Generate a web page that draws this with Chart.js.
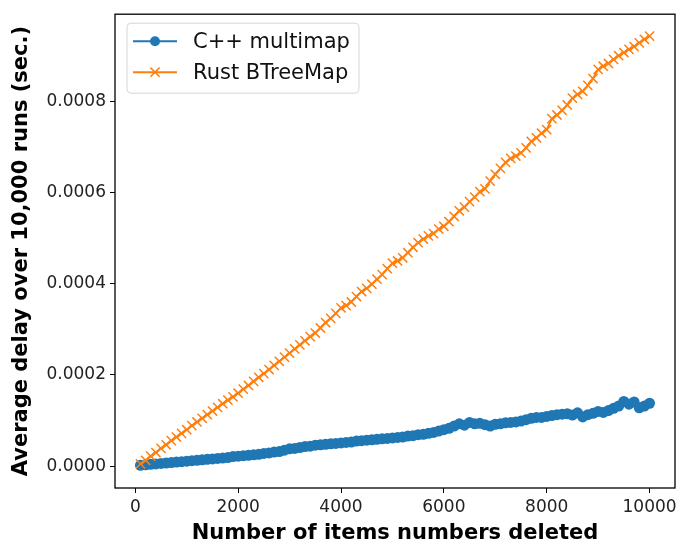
<!DOCTYPE html>
<html>
<head>
<meta charset="utf-8">
<script src="https://cdn.jsdelivr.net/npm/chart.js@4.4.1/dist/chart.umd.min.js"></script>
<style>
  html, body { margin: 0; padding: 0; background: #fff; }
  #wrap { width: 693px; height: 548px; position: relative; }
</style>
</head>
<body>
<div id="wrap"><canvas id="myChart"></canvas></div>
<script>
// number of items deleted: 100, 200, ... 10000
var itemCounts = [];
for (var i = 1; i <= 100; i++) itemCounts.push(i * 100);

// average delay, in units of 1e-4 sec
var cppDelay = [
    0.02, 0.03, 0.04, 0.05, 0.06, 0.07, 0.08, 0.09, 0.10, 0.11,
    0.12, 0.13, 0.14, 0.15, 0.16, 0.17, 0.18, 0.19, 0.21, 0.22,
    0.23, 0.24, 0.25, 0.26, 0.28, 0.29, 0.31, 0.32, 0.35, 0.38,
    0.39, 0.41, 0.43, 0.44, 0.46, 0.47, 0.48, 0.49, 0.50, 0.51,
    0.52, 0.53, 0.55, 0.56, 0.57, 0.58, 0.59, 0.60, 0.61, 0.62,
    0.63, 0.64, 0.66, 0.67, 0.69, 0.70, 0.72, 0.74, 0.77, 0.80,
    0.83, 0.88, 0.93, 0.90, 0.96, 0.93, 0.94, 0.91, 0.88, 0.92,
    0.93, 0.95, 0.96, 0.97, 0.99, 1.02, 1.05, 1.07, 1.07, 1.09,
    1.11, 1.13, 1.14, 1.15, 1.12, 1.17, 1.08, 1.13, 1.16, 1.20,
    1.18, 1.22, 1.27, 1.32, 1.42, 1.36, 1.41, 1.28, 1.32, 1.38
];
var rustDelay = [
    0.05, 0.13, 0.22, 0.30, 0.39, 0.47, 0.56, 0.64, 0.72, 0.80,
    0.89, 0.97, 1.05, 1.13, 1.21, 1.29, 1.37, 1.45, 1.52, 1.60,
    1.69, 1.77, 1.86, 1.95, 2.03, 2.12, 2.21, 2.30, 2.39, 2.48,
    2.57, 2.66, 2.75, 2.84, 2.92, 3.03, 3.15, 3.24, 3.35, 3.47,
    3.52, 3.60, 3.72, 3.83, 3.90, 3.99, 4.10, 4.20, 4.33, 4.45,
    4.50, 4.57, 4.68, 4.80, 4.90, 4.98, 5.05, 5.10, 5.20, 5.26,
    5.36, 5.48, 5.60, 5.68, 5.80, 5.90, 6.02, 6.08, 6.25, 6.40,
    6.53, 6.66, 6.75, 6.80, 6.87, 6.98, 7.12, 7.20, 7.30, 7.38,
    7.62, 7.70, 7.80, 7.92, 8.07, 8.15, 8.22, 8.35, 8.50, 8.70,
    8.77, 8.83, 8.92, 9.00, 9.07, 9.14, 9.20, 9.28, 9.36, 9.43
];
var seriesNames = ['C++ multimap', 'Rust BTreeMap'];

var xTicks = [0, 2000, 4000, 6000, 8000, 10000];
var yTicks = [0, 0.0002, 0.0004, 0.0006, 0.0008];

function toPoints(vals) {
    return itemCounts.map(function(x, i) { return { x: x, y: vals[i] * 1e-4 }; });
}

var BLUE = '#1f77b4';
var ORANGE = '#ff7f0e';

var data1 = {
    datasets: [
        {
            label: seriesNames[0],
            data: toPoints(cppDelay),
            borderColor: BLUE,
            backgroundColor: BLUE,
            borderWidth: 2,
            pointStyle: 'circle',
            pointRadius: 5.5,
            pointBorderWidth: 0,
            order: 2
        },
        {
            label: seriesNames[1],
            data: toPoints(rustDelay),
            borderColor: ORANGE,
            backgroundColor: ORANGE,
            borderWidth: 2,
            pointStyle: 'crossRot',
            pointRadius: 6.5,
            pointBorderWidth: 1.5,
            order: 1
        }
    ]
};

// box round the plot + matplotlib-like legend in the top left corner
var framePlugin = {
    id: 'frame',
    afterDraw: function(chart) {
        var c = chart.ctx, a = chart.chartArea;
        c.save();
        c.strokeStyle = '#000';
        c.lineWidth = 1.3;
        c.strokeRect(a.left, a.top, a.right - a.left, a.bottom - a.top);

        // legend box
        var bx = a.left + 12, by = a.top + 9, bw = 232, bh = 70, r = 4;
        c.beginPath();
        c.moveTo(bx + r, by);
        c.arcTo(bx + bw, by, bx + bw, by + bh, r);
        c.arcTo(bx + bw, by + bh, bx, by + bh, r);
        c.arcTo(bx, by + bh, bx, by, r);
        c.arcTo(bx, by, bx + bw, by, r);
        c.closePath();
        c.fillStyle = 'rgba(255,255,255,0.8)';
        c.fill();
        c.strokeStyle = '#d6d6d6';
        c.lineWidth = 1;
        c.stroke();

        var rows = [by + 18, by + 49];
        chart.data.datasets.forEach(function(ds, i) {
            var y = rows[i];
            c.strokeStyle = ds.borderColor;
            c.lineWidth = 2;
            c.beginPath();
            c.moveTo(bx + 6, y);
            c.lineTo(bx + 50, y);
            c.stroke();
            if (ds.pointStyle === 'circle') {
                c.fillStyle = ds.backgroundColor;
                c.beginPath();
                c.arc(bx + 28, y, 5, 0, Math.PI * 2);
                c.fill();
            } else {
                c.lineWidth = ds.pointBorderWidth;
                Chart.helpers.drawPoint(c, {
                    pointStyle: ds.pointStyle,
                    radius: ds.pointRadius,
                    borderWidth: ds.pointBorderWidth
                }, bx + 28, y);
            }
            c.fillStyle = '#111';
            c.font = '21px "DejaVu Sans"';
            c.textBaseline = 'middle';
            c.textAlign = 'left';
            c.fillText(ds.label, bx + 66, y + 1);
        });
        c.restore();
    }
};

var options = {
    responsive: true,
    maintainAspectRatio: false,
    animation: false,
    layout: { padding: { left: 0, top: 10, right: 18, bottom: 0 } },
    plugins: {
        legend: { display: false },
        tooltip: { enabled: false }
    },
    scales: {
        x: {
            type: 'linear',
            min: -395,
            max: 10495,
            afterBuildTicks: function(scale) {
                scale.ticks = xTicks.map(function(v) { return { value: v }; });
            },
            afterFit: function(scale) { scale.height = 60; },
            grid: { drawOnChartArea: false, drawTicks: true, tickLength: 5, color: '#000', lineWidth: 1 },
            border: { display: false },
            ticks: {
                color: '#222',
                font: { family: 'DejaVu Sans', size: 17 },
                padding: 4,
                maxRotation: 0,
                callback: function(v) { return String(v); }
            },
            title: {
                display: true,
                text: 'Number of items numbers deleted',
                color: '#000',
                font: { family: 'DejaVu Sans', size: 21, weight: 'bold' },
                padding: { top: 0, bottom: 2 }
            }
        },
        y: {
            type: 'linear',
            min: -0.0000478,
            max: 0.000991,
            afterBuildTicks: function(scale) {
                scale.ticks = yTicks.map(function(v) { return { value: v }; });
            },
            afterFit: function(scale) { scale.width = 115; },
            grid: { drawOnChartArea: false, drawTicks: true, tickLength: 5, color: '#000', lineWidth: 1 },
            border: { display: false },
            ticks: {
                color: '#222',
                font: { family: 'DejaVu Sans', size: 17 },
                padding: 4,
                callback: function(v) { return Number(v).toFixed(4); }
            },
            title: {
                display: true,
                text: 'Average delay over 10,000 runs (sec.)',
                color: '#000',
                font: { family: 'DejaVu Sans', size: 21, weight: 'bold' },
                padding: { top: 9, bottom: 0 }
            }
        }
    }
};

var ctx1 = document.getElementById('myChart').getContext('2d');
var myLineChart = new Chart(ctx1, {
    type: 'line',
    data: data1,
    options: options,
    plugins: [framePlugin]
});
</script>
</body>
</html>
